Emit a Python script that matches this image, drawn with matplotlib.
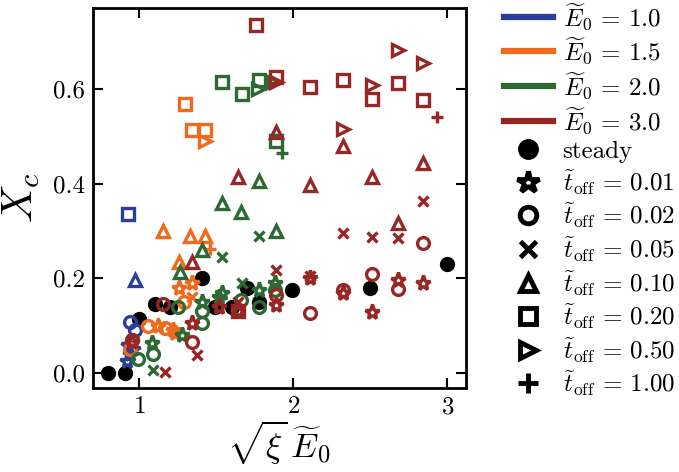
import matplotlib
matplotlib.use("Agg")
import matplotlib.pyplot as plt
from matplotlib.lines import Line2D

plt.rcParams["font.family"] = "serif"
plt.rcParams["font.serif"] = ["cmr10"]
plt.rcParams["mathtext.fontset"] = "cm"
plt.rcParams["axes.formatter.use_mathtext"] = True

#====================DATA====================

steady_x = [0.80, 0.91, 1.00, 1.10, 1.20, 1.41, 1.49, 1.60, 1.70, 1.78, 1.99, 2.50, 3.00]
steady_y = [0.000, 0.000, 0.115, 0.145, 0.140, 0.200, 0.140, 0.140, 0.180, 0.150, 0.175, 0.180, 0.230]

# E0 = 1.0
e10_x = [0.93, 0.97, 0.94, 0.97, 0.95, 0.93, 0.94, 0.92, 0.96]
e10_y = [0.337, 0.197, 0.108, 0.090, 0.070, 0.060, 0.040, 0.025, 0.050]
e10_m = ["s", "^", "o", "o", "o", "*", "*", "*", "*"]

# E0 = 1.5
e15_x = [1.30, 1.34, 1.43, 1.43, 1.155, 1.33, 1.43, 1.26, 1.46,
         1.26, 1.34, 1.23, 1.12, 1.22, 1.06, 1.17, 1.29, 0.94, 1.34]
e15_y = [0.569, 0.514, 0.514, 0.490, 0.300, 0.290, 0.290, 0.235, 0.262,
         0.180, 0.190, 0.085, 0.100, 0.090, 0.100, 0.095, 0.150, 0.050, 0.160]
e15_m = ["s", "s", "s", ">", "^", "^", "^", "^", "+",
         "*", "*", "*", "*", "*", "o", "o", "o", "o", "x"]

# E0 = 2.0
e20_x = [1.54, 1.67, 1.78, 1.89, 1.77, 1.87, 1.93,
         1.78, 1.54, 1.66, 1.89, 1.41, 1.265,
         1.78, 1.54, 1.09, 1.67,
         1.78, 1.88, 1.54, 1.41, 1.28, 1.08, 1.52,
         1.78, 1.88, 1.25, 1.41, 1.41, 1.09, 0.99, 1.66]
e20_y = [0.615, 0.590, 0.620, 0.490, 0.600, 0.615, 0.465,
         0.405, 0.360, 0.340, 0.300, 0.260, 0.213,
         0.290, 0.245, 0.006, 0.190,
         0.175, 0.190, 0.170, 0.150, 0.080, 0.063, 0.160,
         0.140, 0.175, 0.140, 0.105, 0.130, 0.040, 0.030, 0.155]
e20_m = ["s", "s", "s", "s", ">", ">", "+",
         "^", "^", "^", "^", "^", "^",
         "x", "x", "x", "x",
         "*", "*", "*", "*", "*", "*", "*",
         "o", "o", "o", "o", "o", "o", "o", "o"]

# E0 = 3.0
e30_x = [1.76, 1.89, 2.11, 2.32, 2.51, 2.68, 2.84, 1.64,
         2.68, 2.84, 2.51, 2.32, 1.89, 2.93,
         1.89, 2.32, 1.64, 2.11, 2.51, 2.84, 2.68, 1.34,
         2.84, 2.32, 2.51, 2.68, 1.89, 2.11, 1.17, 1.375, 1.64,
         2.84, 2.51, 2.68, 2.11, 1.89, 2.32, 1.34, 1.155, 0.95,
         2.84, 2.68, 2.51, 2.32, 2.11, 1.89, 1.64, 1.34, 0.95, 1.52]
e30_y = [0.737, 0.626, 0.605, 0.620, 0.580, 0.613, 0.578, 0.130,
         0.684, 0.656, 0.610, 0.516, 0.615, 0.542,
         0.510, 0.480, 0.415, 0.398, 0.415, 0.444, 0.317, 0.235,
         0.364, 0.296, 0.288, 0.285, 0.218, 0.205, 0.002, 0.038, 0.150,
         0.275, 0.210, 0.177, 0.126, 0.165, 0.175, 0.065, 0.145, 0.070,
         0.190, 0.197, 0.128, 0.170, 0.200, 0.143, 0.130, 0.105, 0.065, 0.140]
e30_m = ["s", "s", "s", "s", "s", "s", "s", "s",
         ">", ">", ">", ">", ">", "+",
         "^", "^", "^", "^", "^", "^", "^", "^",
         "x", "x", "x", "x", "x", "x", "x", "x", "x",
         "o", "o", "o", "o", "o", "o", "o", "o", "o",
         "*", "*", "*", "*", "*", "*", "*", "*", "*", "*"]

e_labels = ["1.0", "1.5", "2.0", "3.0"]
e_colors = ["#2a3f9c", "#f06a1e", "#2d6a33", "#982624"]
toff_labels = ["0.01", "0.02", "0.05", "0.10", "0.20", "0.50", "1.00"]
toff_markers = ["*", "o", "x", "^", "s", ">", "+"]

#====================PLOT====================

fig = plt.figure(figsize=(6.79, 4.72), dpi=100)
ax = fig.add_axes([0.137, 0.178, 0.549, 0.805])

msize = {"o": 8.5, "s": 9, "^": 9, ">": 9, "*": 11, "x": 7.5, "+": 9}

ax.plot(steady_x, steady_y, "o", color="black", ms=10, ls="none", zorder=2)

for xs, ys, ms_, col in [(e10_x, e10_y, e10_m, e_colors[0]),
                         (e15_x, e15_y, e15_m, e_colors[1]),
                         (e20_x, e20_y, e20_m, e_colors[2]),
                         (e30_x, e30_y, e30_m, e_colors[3])]:
    for x, y, m in zip(xs, ys, ms_):
        ax.plot(x, y, marker=m, ms=msize[m], mec=col, mfc="none",
                mew=2.4, ls="none", zorder=3)

ax.set_xlim(0.70, 3.12)
ax.set_ylim(-0.032, 0.772)
ax.set_xticks([1, 2, 3])
ax.set_yticks([0.0, 0.2, 0.4, 0.6])
ax.set_yticklabels(["0.0", "0.2", "0.4", "0.6"])
ax.tick_params(direction="in", top=True, right=True, length=7, width=1.5,
               labelsize=18, pad=6)
for sp in ax.spines.values():
    sp.set_linewidth(2)

ax.set_xlabel(r"$\sqrt{\xi}\,\widetilde{E}_0$", fontsize=25, labelpad=0)
ax.set_ylabel(r"$X_c$", fontsize=31, labelpad=8)

leg_ms = {"*": 16, "o": 12, "x": 12, "^": 12, "s": 12, ">": 12, "+": 15}

handles = []
labels = []
for lab, col in zip(e_labels, e_colors):
    handles.append(Line2D([], [], color=col, lw=4.5))
    labels.append(r"$\widetilde{E}_0\,=\,%s$" % lab)
handles.append(Line2D([], [], marker="o", color="black", ls="none", ms=14))
labels.append("steady")
for lab, m in zip(toff_labels, toff_markers):
    handles.append(Line2D([], [], marker=m, color="black", mfc="none" if m not in "x+" else "black",
                          mec="black", mew=3.5, ls="none", ms=leg_ms[m]))
    labels.append(r"$\widetilde{t}_{\mathrm{off}}\,=\,%s$" % lab)

fig.legend(handles, labels, loc="center left", bbox_to_anchor=(0.742, 0.577),
           frameon=False, fontsize=18, handlelength=1.95, labelspacing=0.17,
           handletextpad=0.4, borderaxespad=0, borderpad=0)

fig.savefig("out.png", dpi=100)
